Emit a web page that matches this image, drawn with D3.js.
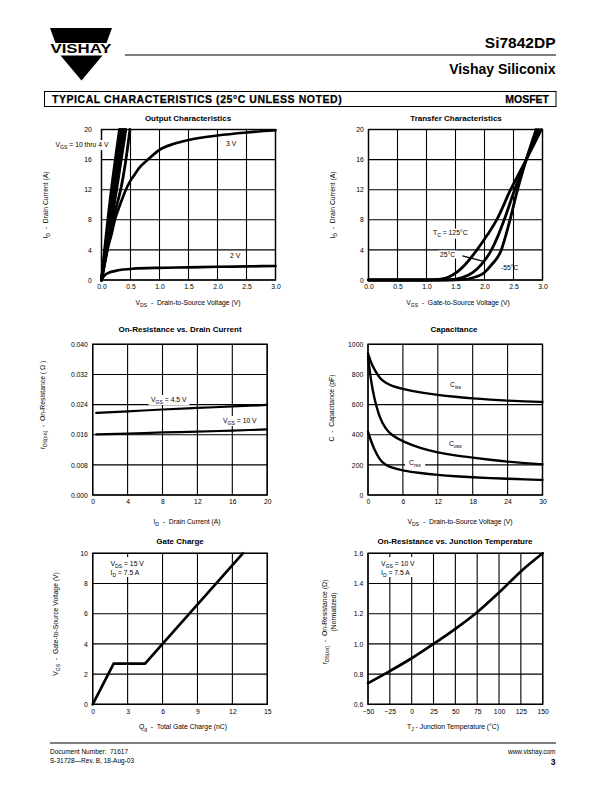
<!DOCTYPE html>
<html><head><meta charset="utf-8">
<script src="https://cdn.jsdelivr.net/npm/d3@7/dist/d3.min.js"></script>
<style>
body{margin:0;background:#fff;}
svg{display:block;font-family:"Liberation Sans",Arial,Helvetica,sans-serif;}
text{white-space:pre;}
</style></head><body>
<svg id="page" width="612" height="792"></svg>
<script>
// ---------------- DATA ----------------
// Output Characteristics (VDS in V, ID in A)
const outXTicks = [0, 0.5, 1.0, 1.5, 2.0, 2.5, 3.0];
const outYTicks = [0, 4, 8, 12, 16, 20];
const out10thru4V = [
  [[0,0],[0.17,12],[0.31,20]],
  [[0,0],[0.19,12],[0.335,20]],
  [[0,0],[0.21,12],[0.36,20]],
  [[0,0],[0.235,12],[0.39,20]],
  [[0,0],[0.26,12],[0.42,20]],
  [[0,0],[0.10,4],[0.20,8],[0.33,12],[0.49,20]]
];
const out3V = [[0,0],[0.05,2],[0.1,4],[0.17,6],[0.23,8],[0.32,10],[0.42,12],[0.5,13.2],[0.57,14],[0.65,14.9],[0.8,16],[1.0,17.3],[1.25,18.1],[1.5,18.6],[2.0,19.2],[2.5,19.6],[3.0,19.9]];
const out2V = [[0,0],[0.03,0.4],[0.06,0.66],[0.12,0.95],[0.26,1.24],[0.55,1.5],[1.0,1.62],[1.5,1.68],[2.0,1.76],[2.5,1.81],[3.0,1.86]];

// Transfer Characteristics (VGS in V, ID in A)
const trXTicks = [0, 0.5, 1.0, 1.5, 2.0, 2.5, 3.0];
const trYTicks = [0, 4, 8, 12, 16, 20];
const tr125C = [[0,0],[1.0,0],[1.15,0.05],[1.35,0.3],[1.52,1],[1.66,2],[1.87,4],[2.05,6],[2.21,8],[2.45,12],[2.72,16],[2.98,20]];
const tr25C  = [[0,0],[1.2,0],[1.4,0.05],[1.6,0.3],[1.8,1],[1.94,2],[2.12,4],[2.24,6],[2.34,8],[2.52,12],[2.72,16],[2.93,20]];
const trM55C = [[0,0],[1.4,0],[1.6,0.05],[1.8,0.3],[2.0,1],[2.12,2],[2.29,4],[2.37,6],[2.44,8],[2.57,12],[2.72,16],[2.89,20]];

// On-Resistance vs Drain Current (ID in A, rDS(on) in ohm)
const rdXTicks = [0, 4, 8, 12, 16, 20];
const rdYTicks = [0, 0.008, 0.016, 0.024, 0.032, 0.040];
const rdId = [0.4, 4, 8, 12, 16, 20];
const rdVgs45 = [0.0218, 0.0222, 0.0227, 0.0231, 0.0235, 0.0239];
const rdVgs10 = [0.0161, 0.0163, 0.0166, 0.0168, 0.0171, 0.0174];

// Capacitance (VDS in V, C in pF)
const capXTicks = [0, 6, 12, 18, 24, 30];
const capYTicks = [0, 200, 400, 600, 800, 1000];
const capVds = [0, 0.5, 1, 2, 3, 4, 6, 9, 12, 15, 18, 21, 24, 27, 30];
const capCiss = [940, 880, 840, 774, 745, 725, 703, 680, 664, 652, 641, 633, 626, 621, 617];
const capCoss = [918, 760, 653, 509, 442, 398, 354, 310, 281, 262, 248, 234, 221, 211, 204];
const capCrss = [420, 360, 310, 232, 199, 182, 161, 145, 133, 124, 117, 112, 108, 104, 100];

// Gate Charge (Qg in nC, VGS in V)
const gcXTicks = [0, 3, 6, 9, 12, 15];
const gcYTicks = [0, 2, 4, 6, 8, 10];
const gcQg = [0, 1.8, 4.5, 6, 12.9];
const gcVgs = [0, 2.7, 2.7, 4, 10];

// On-Resistance vs Junction Temperature
const tjXTicks = [-50, -25, 0, 25, 50, 75, 100, 125, 150];
const tjYTicks = [0.6, 0.8, 1.0, 1.2, 1.4, 1.6];
const tjTemp = [-50, -25, 0, 25, 50, 75, 100, 125, 150];
const tjRnorm = [0.74, 0.82, 0.905, 1.0, 1.10, 1.21, 1.34, 1.48, 1.60];

// ---------------- HELPERS ----------------
const svg = d3.select('#page');
const FONT = '"Liberation Sans",Arial,Helvetica,sans-serif';

function rich(textSel, str, fs) {
  const parts = str.split(/(_\{[^}]*\})/).filter(s => s.length);
  let shifted = 0;
  parts.forEach(p => {
    const m = p.match(/^_\{([^}]*)\}$/);
    const ts = textSel.append('tspan');
    if (m) {
      ts.text(m[1]).attr('font-size', fs * 0.75).attr('dy', fs * 0.3 - shifted);
      shifted = fs * 0.3;
    } else {
      ts.text(p);
      if (shifted) { ts.attr('dy', -shifted); shifted = 0; }
    }
  });
  return textSel;
}

function label(g, x, y, str, opts = {}) {
  const fs = opts.fs || 6.8;
  const t = g.append('text').attr('x', x).attr('y', y)
    .attr('font-size', fs).attr('text-anchor', opts.anchor || 'start')
    .attr('fill', '#000');
  if (opts.bold) t.attr('font-weight', 'bold');
  rich(t, str, fs);
  if (opts.bg) {
    const b = t.node().getBBox();
    const p = opts.pad || 1.5;
    g.insert('rect', () => t.node())
      .attr('x', b.x - p).attr('y', b.y - 0.5).attr('width', b.width + 2 * p).attr('height', b.height + 1)
      .attr('fill', '#fff');
  }
  return t;
}

function chart(o) {
  const g = svg.append('g');
  const x = d3.scaleLinear().domain(o.xDomain).range([o.left, o.right]);
  const y = d3.scaleLinear().domain(o.yDomain).range([o.bottom, o.top]);
  const grid = g.append('g').attr('stroke', '#000').attr('stroke-width', 1.1);
  grid.selectAll('.vx').data(o.xTicks).join('line')
    .attr('x1', d => x(d)).attr('x2', d => x(d)).attr('y1', o.top).attr('y2', o.bottom);
  grid.selectAll('.hy').data(o.yTicks).join('line')
    .attr('y1', d => y(d)).attr('y2', d => y(d)).attr('x1', o.left).attr('x2', o.right);
  g.append('rect').attr('x', o.left).attr('y', o.top)
    .attr('width', o.right - o.left).attr('height', o.bottom - o.top)
    .attr('fill', 'none').attr('stroke', '#000').attr('stroke-width', 1.4);
  const ax = g.append('g').attr('transform', `translate(0,${o.bottom})`)
    .call(d3.axisBottom(x).tickValues(o.xTicks).tickSize(0).tickPadding(o.xPad || 4.5).tickFormat(o.xFmt));
  const ay = g.append('g').attr('transform', `translate(${o.left},0)`)
    .call(d3.axisLeft(y).tickValues(o.yTicks).tickSize(0).tickPadding(o.yPad || 4.8).tickFormat(o.yFmt));
  [ax, ay].forEach(a => {
    a.select('.domain').remove();
    a.attr('font-family', FONT).attr('font-size', 6.8);
  });
  g.append('text').attr('x', o.titleX).attr('y', o.titleY).attr('text-anchor', 'middle')
    .attr('font-weight', 'bold').attr('font-size', 8).text(o.title);
  label(g, o.xtX, o.xtY, o.xTitle, { anchor: 'middle', fs: 6.8 });
  o.yTitles.forEach(yt => {
    const t = g.append('text').attr('transform', `translate(${yt.x},${yt.y}) rotate(-90)`)
      .attr('text-anchor', 'middle').attr('font-size', 6.8).attr('dy', '0.35em');
    rich(t, yt.text, 6.8);
  });
  return { g, x, y };
}

const line = (x, y, curve) => d3.line().x(d => x(d[0])).y(d => y(d[1])).curve(curve || d3.curveMonotoneX);
function drawCurve(c, pts, w, curve) {
  c.g.append('path').attr('d', line(c.x, c.y, curve)(pts))
    .attr('fill', 'none').attr('stroke', '#000').attr('stroke-width', w)
    .attr('stroke-linejoin', 'round').attr('stroke-linecap', 'round');
}

// ---------------- HEADER ----------------
svg.append('polygon').attr('points', '50,28 112,28 106.5,43 55.5,43').attr('fill', '#000');
svg.append('text').attr('x', 50.5).attr('y', 53.3).attr('font-weight', 'bold').attr('font-size', 13)
  .attr('textLength', 61).attr('lengthAdjust', 'spacingAndGlyphs').text('VISHAY');
svg.append('polygon').attr('points', '60.5,55.5 102.5,55.5 81.5,80.5').attr('fill', '#000');
svg.append('line').attr('x1', 125).attr('x2', 556).attr('y1', 55).attr('y2', 55).attr('stroke', '#000').attr('stroke-width', 1);
svg.append('text').attr('x', 555.5).attr('y', 48).attr('text-anchor', 'end').attr('font-weight', 'bold').attr('font-size', 15.5).text('Si7842DP');
svg.append('text').attr('x', 555.5).attr('y', 73.5).attr('text-anchor', 'end').attr('font-weight', 'bold').attr('font-size', 14).text('Vishay Siliconix');
svg.append('rect').attr('x', 44.5).attr('y', 91.5).attr('width', 511.5).attr('height', 15).attr('fill', 'none').attr('stroke', '#000').attr('stroke-width', 1);
svg.append('text').attr('x', 52).attr('y', 102.5).attr('font-weight', 'bold').attr('font-size', 10.5).attr('letter-spacing', 0.55)
  .attr('stroke', '#000').attr('stroke-width', 0.25)
  .text('TYPICAL CHARACTERISTICS (25°C UNLESS NOTED)');
svg.append('text').attr('x', 549).attr('y', 102.5).attr('text-anchor', 'end').attr('font-weight', 'bold').attr('font-size', 10.5)
  .attr('stroke', '#000').attr('stroke-width', 0.25).text('MOSFET');

// ---------------- CHART 1: Output Characteristics ----------------
const c1 = chart({
  left: 101.5, right: 275.5, top: 129.5, bottom: 280,
  xDomain: [0, 3], yDomain: [0, 20], xTicks: outXTicks, yTicks: outYTicks,
  xFmt: d3.format('.1f'), yFmt: d3.format('d'), yPad: 9.8,
  title: 'Output Characteristics', titleX: 188, titleY: 121,
  xTitle: 'V_{DS}  -  Drain-to-Source Voltage (V)', xtX: 188, xtY: 305,
  yTitles: [{ x: 46, y: 205, text: 'I_{D}  -  Drain Current (A)' }]
});
label(c1.g, 55.5, 146.5, 'V_{GS} = 10 thru 4 V', { bg: true, fs: 6.8 });
label(c1.g, 226, 145.5, '3 V', { fs: 6.8 });
label(c1.g, 230, 258, '2 V', { fs: 6.8 });
out10thru4V.forEach(p => drawCurve(c1, p, 2.8, d3.curveMonotoneY));
drawCurve(c1, out3V, 2.7);
drawCurve(c1, out2V, 2.7);

// ---------------- CHART 2: Transfer Characteristics ----------------
const c2 = chart({
  left: 368.5, right: 542.5, top: 129.5, bottom: 280,
  xDomain: [0, 3], yDomain: [0, 20], xTicks: trXTicks, yTicks: trYTicks,
  xFmt: d3.format('.1f'), yFmt: d3.format('d'),
  title: 'Transfer Characteristics', titleX: 456, titleY: 121,
  xTitle: 'V_{GS}  -  Gate-to-Source Voltage (V)', xtX: 458, xtY: 305,
  yTitles: [{ x: 333, y: 205, text: 'I_{D}  -  Drain Current (A)' }]
});
label(c2.g, 433, 235, 'T_{C} = 125°C', { bg: true });
label(c2.g, 440, 257, '25°C', { bg: true });
c2.g.append('line').attr('x1', c2.x(1.62)).attr('y1', c2.y(3.2)).attr('x2', c2.x(2.0)).attr('y2', c2.y(2.45))
  .attr('stroke', '#000').attr('stroke-width', 1.3);
label(c2.g, 501, 269.5, '-55°C');
[tr125C, tr25C, trM55C].forEach(p => drawCurve(c2, p, 2.8));

// ---------------- CHART 3: On-Resistance vs Drain Current ----------------
const c3 = chart({
  left: 92.7, right: 267.2, top: 344.3, bottom: 495,
  xDomain: [0, 20], yDomain: [0, 0.04], xTicks: rdXTicks, yTicks: rdYTicks,
  xFmt: d3.format('d'), yFmt: d3.format('.3f'),
  title: 'On-Resistance vs. Drain Current', titleX: 180, titleY: 332,
  xTitle: 'I_{D}  -  Drain Current (A)', xtX: 187, xtY: 524,
  yTitles: [{ x: 43, y: 405, text: 'r_{DS(on)}  -  On-Resistance ( Ω )' }]
});
label(c3.g, 151, 401.5, 'V_{GS} = 4.5 V', { bg: true, pad: 2.5 });
label(c3.g, 223, 422.5, 'V_{GS} = 10 V', { bg: true });
drawCurve(c3, rdId.map((d, i) => [d, rdVgs45[i]]), 2.2);
drawCurve(c3, rdId.map((d, i) => [d, rdVgs10[i]]), 2.2);

// ---------------- CHART 4: Capacitance ----------------
const c4 = chart({
  left: 368, right: 542.5, top: 344.3, bottom: 495,
  xDomain: [0, 30], yDomain: [0, 1000], xTicks: capXTicks, yTicks: capYTicks,
  xFmt: d3.format('d'), yFmt: d3.format('d'),
  title: 'Capacitance', titleX: 454, titleY: 332,
  xTitle: 'V_{DS}  -  Drain-to-Source Voltage (V)', xtX: 460, xtY: 524,
  yTitles: [{ x: 332, y: 408, text: 'C  -  Capacitance (pF)' }]
});
label(c4.g, 450, 387, 'C_{iss}');
label(c4.g, 449, 446, 'C_{oss}');
label(c4.g, 409, 464.5, 'C_{rss}', { bg: true, pad: 4 });
[capCiss, capCoss, capCrss].forEach(s => drawCurve(c4, capVds.map((d, i) => [d, s[i]]), 2.4, d3.curveBasis));

// ---------------- CHART 5: Gate Charge ----------------
const c5 = chart({
  left: 92.7, right: 267.3, top: 553.3, bottom: 704.3,
  xDomain: [0, 15], yDomain: [0, 10], xTicks: gcXTicks, yTicks: gcYTicks,
  xFmt: d3.format('d'), yFmt: d3.format('d'),
  title: 'Gate Charge', titleX: 180, titleY: 543.5,
  xTitle: 'Q_{g}  -  Total Gate Charge (nC)', xtX: 183, xtY: 728.5,
  yTitles: [{ x: 56, y: 624, text: 'V_{GS}  -  Gate-to-Source Voltage (V)' }]
});
c5.g.append('rect').attr('x', 108).attr('y', 557).attr('width', 40).attr('height', 20).attr('fill', '#fff');
label(c5.g, 110.5, 565.5, 'V_{DS} = 15 V');
label(c5.g, 110.5, 575, 'I_{D} = 7.5 A');
drawCurve(c5, gcQg.map((d, i) => [d, gcVgs[i]]), 2.7, d3.curveLinear);

// ---------------- CHART 6: On-Resistance vs Junction Temperature ----------------
const c6 = chart({
  left: 368, right: 542.7, top: 553.3, bottom: 704.3,
  xDomain: [-50, 150], yDomain: [0.6, 1.6], xTicks: tjXTicks, yTicks: tjYTicks,
  xFmt: d3.format('d'), yFmt: d3.format('.1f'),
  title: 'On-Resistance vs. Junction Temperature', titleX: 455, titleY: 543.5,
  xTitle: 'T_{J} - Junction Temperature (°C)', xtX: 453, xtY: 728.5,
  yTitles: [{ x: 325, y: 622, text: 'r_{DS(on)}  -  On-Resistance (Ω)' }, { x: 333.5, y: 612, text: '(Normalized)' }]
});
c6.g.append('rect').attr('x', 379).attr('y', 557).attr('width', 40).attr('height', 20).attr('fill', '#fff');
label(c6.g, 381, 565.5, 'V_{GS} = 10 V');
label(c6.g, 381, 575, 'I_{D} = 7.5 A');
drawCurve(c6, tjTemp.map((d, i) => [d, tjRnorm[i]]), 2.7);

// ---------------- FOOTER ----------------
svg.append('line').attr('x1', 50).attr('x2', 556).attr('y1', 743).attr('y2', 743).attr('stroke', '#000').attr('stroke-width', 1);
svg.append('text').attr('x', 50).attr('y', 753.5).attr('font-size', 6.5).text('Document Number:  71617');
svg.append('text').attr('x', 50).attr('y', 763).attr('font-size', 6.5).text('S-31728—Rev. B, 18-Aug-03');
svg.append('text').attr('x', 555.5).attr('y', 753.5).attr('font-size', 6.5).attr('text-anchor', 'end').text('www.vishay.com');
svg.append('text').attr('x', 555.5).attr('y', 764.5).attr('font-size', 8.5).attr('font-weight', 'bold').attr('text-anchor', 'end').text('3');
</script></body></html>
